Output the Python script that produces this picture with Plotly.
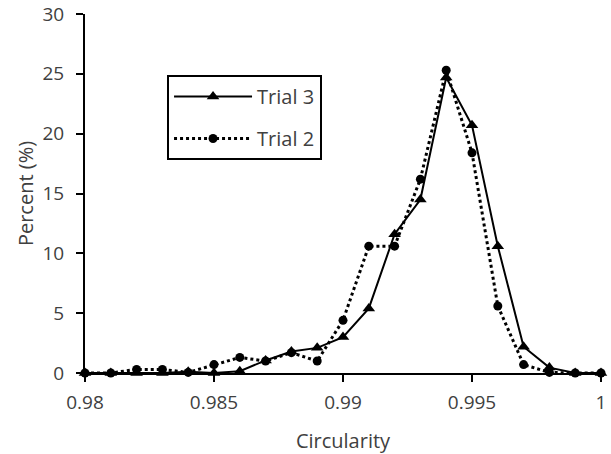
import plotly.graph_objects as go

circularity = [0.980, 0.981, 0.982, 0.983, 0.984, 0.985, 0.986, 0.987, 0.988, 0.989, 0.990,
               0.991, 0.992, 0.993, 0.994, 0.995, 0.996, 0.997, 0.998, 0.999, 1.000]
trial3 = [0, 0, 0, 0, 0.1, 0, 0.15, 1.05, 1.8, 2.1, 3.0,
          5.4, 11.6, 14.5, 24.7, 20.7, 10.6, 2.2, 0.45, 0, 0]
trial2 = [0, 0, 0.3, 0.3, 0.05, 0.7, 1.3, 1.0, 1.7, 1.0, 4.4,
          10.6, 10.6, 16.2, 25.3, 18.4, 5.6, 0.7, 0.05, 0, 0]

x_tickvals = [0.98, 0.985, 0.99, 0.995, 1.0]
x_ticktext = ["0.98", "0.985", "0.99", "0.995", "1"]
y_tickvals = [0, 5, 10, 15, 20, 25, 30]

txt = "#404040"
font = dict(family="Open Sans, Noto Sans, sans-serif", size=19, color=txt)

fig = go.Figure()
fig.add_trace(go.Scatter(
    x=circularity, y=trial3, name="Trial 3", mode="lines+markers",
    line=dict(color="black", width=2),
    marker=dict(symbol="triangle-up", size=11, color="black"),
    cliponaxis=False, legendgroup="a"))
fig.add_trace(go.Scatter(
    x=circularity, y=trial2, name="Trial 2", mode="lines+markers",
    line=dict(color="black", width=3, dash="dot"),
    marker=dict(symbol="circle", size=9, color="black"),
    cliponaxis=False, legendgroup="b"))

fig.update_layout(
    width=611, height=454,
    margin=dict(l=85, r=10, t=14, b=81),
    paper_bgcolor="white", plot_bgcolor="white",
    font=font,
    showlegend=True,
    legend=dict(x=0.159, y=0.83, xanchor="left", yanchor="top",
                bordercolor="black", borderwidth=2, bgcolor="white",
                tracegroupgap=13, itemwidth=78,
                font=dict(size=20, color=txt)),
    xaxis=dict(range=[0.98, 1.0000001], tickvals=x_tickvals, ticktext=x_ticktext,
               showgrid=False, zeroline=False, showline=True, linecolor="black", linewidth=2,
               ticks="outside", ticklen=7, tickwidth=2, tickcolor="black",
               tickfont=dict(size=19, color=txt), automargin=False,
               ticklabeloverflow="allow", ticklabelstandoff=4,
               title=dict(text="Circularity", standoff=29, font=dict(size=20, color=txt))),
    yaxis=dict(range=[0, 30.0000001], tickvals=y_tickvals,
               showgrid=False, zeroline=False, showline=True, linecolor="black", linewidth=2,
               ticks="outside", ticklen=7, tickwidth=2, tickcolor="black",
               tickfont=dict(size=19, color=txt), automargin=False,
               ticklabeloverflow="allow", ticklabelstandoff=8,
               title=dict(text="Percent (%)", standoff=3, font=dict(size=20, color=txt))),
)

fig.write_html("out.html", config={"displayModeBar": False},
               post_script="document.body.style.margin='0';")
